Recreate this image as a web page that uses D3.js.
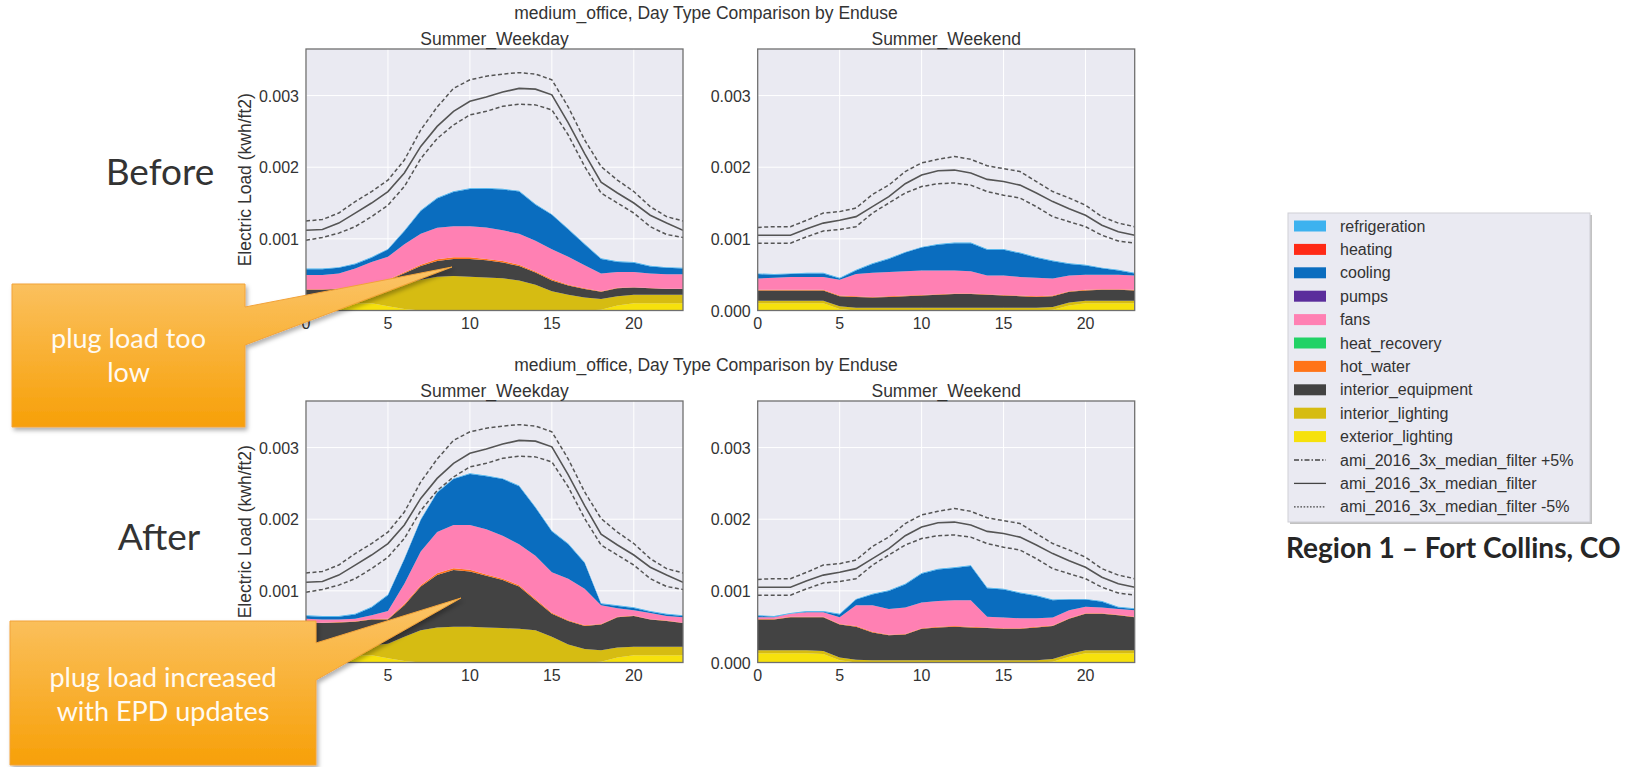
<!DOCTYPE html>
<html>
<head>
<meta charset="utf-8">
<script src="https://cdn.jsdelivr.net/npm/d3@7"></script>
<style>
  body { margin: 0; background: #fff; }
  svg { display: block; font-family: "Liberation Sans", Arial, sans-serif; }
</style>
</head>
<body>
<script>
// hourly values, all in 1e-3 kwh/ft2
var hours = [0,1,2,3,4,5,6,7,8,9,10,11,12,13,14,15,16,17,18,19,20,21,22,23];

var enduses = ["refrigeration","heating","cooling","pumps","fans","heat_recovery",
  "hot_water","interior_equipment","interior_lighting","exterior_lighting"];
var enduseColors = ["#3db2ef","#ff2a16","#0a6dbf","#5b2d9c","#ff80b3","#22d266",
  "#ff7418","#434343","#d6bc12","#f6e10c"];

var xTicks = [0,5,10,15,20];
var yTicks = [0,1,2,3];

// AMI measured profiles (same in before/after)
var wdMedian = [1.12,1.13,1.22,1.36,1.50,1.66,1.92,2.29,2.57,2.78,2.92,2.98,3.05,3.10,3.09,3.01,2.62,2.19,1.79,1.64,1.50,1.33,1.22,1.12];
var wdUpper  = [1.25,1.27,1.36,1.52,1.66,1.82,2.10,2.52,2.84,3.10,3.22,3.27,3.30,3.32,3.30,3.22,2.84,2.38,2.01,1.82,1.66,1.45,1.31,1.25];
var wdLower  = [0.98,1.02,1.08,1.17,1.31,1.47,1.73,2.12,2.40,2.59,2.73,2.78,2.85,2.88,2.87,2.80,2.45,2.01,1.64,1.50,1.36,1.17,1.06,1.02];
var weMedian = [1.05,1.05,1.05,1.14,1.22,1.26,1.31,1.45,1.59,1.77,1.89,1.95,1.96,1.92,1.83,1.80,1.75,1.64,1.52,1.42,1.33,1.19,1.10,1.05];
var weUpper  = [1.16,1.17,1.17,1.26,1.36,1.38,1.43,1.62,1.75,1.94,2.06,2.11,2.15,2.11,2.02,1.98,1.94,1.80,1.66,1.57,1.47,1.31,1.22,1.17];
var weLower  = [0.94,0.94,0.94,1.03,1.11,1.13,1.17,1.36,1.50,1.64,1.73,1.77,1.78,1.75,1.66,1.61,1.57,1.45,1.31,1.24,1.17,1.05,0.97,0.94];

var refrigeration = [0.01,0.01,0.01,0.01,0.01,0.01,0.01,0.01,0.01,0.01,0.01,0.01,0.01,0.01,0.01,0.01,0.01,0.01,0.01,0.01,0.01,0.01,0.01,0.01];
var noLoad = [0,0,0,0,0,0,0,0,0,0,0,0,0,0,0,0,0,0,0,0,0,0,0,0];

// before, weekday
var bwdExterior  = [0.10,0.10,0.10,0.10,0.10,0.06,0.02,0,0,0,0,0,0,0,0,0,0,0,0.01,0.07,0.10,0.10,0.10,0.10];
var bwdInterior  = [0.11,0.11,0.11,0.13,0.15,0.24,0.35,0.43,0.47,0.48,0.47,0.46,0.45,0.42,0.36,0.27,0.22,0.18,0.15,0.13,0.12,0.12,0.12,0.12];
var bwdEquipment = [0.08,0.08,0.09,0.09,0.11,0.12,0.15,0.19,0.22,0.24,0.25,0.24,0.22,0.20,0.17,0.15,0.13,0.12,0.10,0.11,0.10,0.09,0.08,0.08];
var bwdHotWater  = [0.005,0.005,0.005,0.005,0.008,0.01,0.015,0.02,0.025,0.025,0.025,0.02,0.02,0.02,0.015,0.015,0.01,0.01,0.008,0.008,0.006,0.005,0.005,0.005];
var bwdFans      = [0.20,0.20,0.21,0.26,0.31,0.32,0.39,0.43,0.44,0.43,0.43,0.44,0.43,0.43,0.43,0.42,0.39,0.32,0.25,0.22,0.21,0.20,0.20,0.20];
var bwdCooling   = [0.08,0.08,0.08,0.06,0.06,0.10,0.18,0.32,0.41,0.48,0.52,0.54,0.57,0.59,0.50,0.48,0.38,0.29,0.20,0.14,0.13,0.10,0.09,0.08];

// before, weekend
var bweExterior  = [0.10,0.10,0.10,0.10,0.10,0.02,0,0,0,0,0,0,0,0,0,0,0,0,0.01,0.07,0.10,0.10,0.10,0.10];
var bweInterior  = [0.035,0.035,0.035,0.035,0.035,0.04,0.04,0.04,0.04,0.04,0.04,0.04,0.04,0.04,0.04,0.04,0.04,0.04,0.04,0.04,0.035,0.035,0.035,0.035];
var bweEquipment = [0.145,0.145,0.145,0.145,0.145,0.14,0.15,0.14,0.15,0.16,0.17,0.18,0.19,0.19,0.18,0.17,0.16,0.15,0.15,0.15,0.145,0.155,0.155,0.145];
var bweHotWater  = [0.008,0.008,0.008,0.008,0.008,0.008,0.008,0.008,0.008,0.008,0.008,0.008,0.008,0.008,0.008,0.008,0.008,0.008,0.008,0.008,0.008,0.008,0.008,0.008];
var bweFans      = [0.16,0.17,0.18,0.18,0.18,0.22,0.31,0.34,0.34,0.34,0.34,0.33,0.32,0.31,0.26,0.27,0.26,0.26,0.24,0.22,0.21,0.20,0.20,0.20];
var bweCooling   = [0.06,0.04,0.04,0.05,0.05,0.02,0.05,0.12,0.18,0.26,0.32,0.36,0.38,0.39,0.36,0.36,0.33,0.28,0.24,0.16,0.13,0.09,0.06,0.03];

// after, weekday
var awdExterior  = [0.10,0.10,0.10,0.10,0.10,0.06,0.02,0,0,0,0,0,0,0,0,0,0,0,0.01,0.07,0.10,0.10,0.10,0.10];
var awdInterior  = [0.11,0.11,0.11,0.12,0.14,0.20,0.34,0.45,0.49,0.50,0.50,0.49,0.48,0.47,0.45,0.36,0.25,0.19,0.16,0.14,0.12,0.12,0.12,0.12];
var awdEquipment = [0.34,0.34,0.35,0.35,0.36,0.34,0.44,0.61,0.73,0.79,0.77,0.72,0.67,0.59,0.42,0.32,0.33,0.32,0.36,0.42,0.43,0.38,0.36,0.33];
var awdHotWater  = [0.005,0.005,0.005,0.005,0.008,0.01,0.015,0.02,0.025,0.025,0.025,0.02,0.02,0.02,0.015,0.015,0.01,0.01,0.008,0.008,0.006,0.005,0.005,0.005];
var awdFans      = [0.055,0.045,0.035,0.035,0.05,0.11,0.285,0.47,0.575,0.605,0.625,0.63,0.60,0.57,0.605,0.565,0.58,0.51,0.26,0.12,0.074,0.085,0.065,0.075];
var awdCooling   = [0.04,0.04,0.04,0.06,0.11,0.22,0.34,0.44,0.55,0.64,0.71,0.74,0.79,0.81,0.67,0.57,0.48,0.36,0.02,0.03,0.03,0.02,0.02,0.02];

// after, weekend
var aweExterior  = [0.13,0.13,0.13,0.13,0.12,0.03,0,0,0,0,0,0,0,0,0,0,0,0,0.01,0.08,0.13,0.13,0.13,0.13];
var aweInterior  = [0.04,0.04,0.04,0.04,0.04,0.04,0.04,0.03,0.03,0.03,0.03,0.03,0.03,0.03,0.03,0.03,0.03,0.03,0.04,0.04,0.04,0.04,0.04,0.04];
var aweEquipment = [0.43,0.43,0.46,0.46,0.47,0.46,0.46,0.39,0.35,0.36,0.44,0.46,0.47,0.46,0.45,0.44,0.44,0.46,0.46,0.49,0.51,0.51,0.49,0.46];
var aweHotWater  = [0.008,0.008,0.008,0.008,0.008,0.008,0.008,0.008,0.008,0.008,0.008,0.008,0.008,0.008,0.008,0.008,0.008,0.008,0.008,0.008,0.008,0.008,0.008,0.008];
var aweFans      = [0.022,0.022,0.042,0.062,0.062,0.092,0.29,0.37,0.36,0.37,0.36,0.36,0.36,0.37,0.15,0.15,0.14,0.12,0.11,0.11,0.09,0.08,0.08,0.09];
var aweCooling   = [0.02,0.01,0,0.01,0.01,0.04,0.08,0.15,0.25,0.32,0.40,0.44,0.45,0.48,0.40,0.39,0.35,0.31,0.24,0.15,0.10,0.08,0.02,0.02];

var width = 1632, height = 767;
var UNIT = 1e-3;

var svg = d3.select("body").append("svg")
  .attr("width", width)
  .attr("height", height);

var defs = svg.append("defs");
var grad = defs.append("linearGradient").attr("id", "callout")
  .attr("x1", 0).attr("y1", 0).attr("x2", 0).attr("y2", 1);
grad.append("stop").attr("offset", "0%").attr("stop-color", "#fbc468");
grad.append("stop").attr("offset", "100%").attr("stop-color", "#f7a008");
var shadow = defs.append("filter").attr("id", "shadow")
  .attr("x", "-10%").attr("y", "-10%").attr("width", "130%").attr("height", "130%");
shadow.append("feDropShadow").attr("dx", 2).attr("dy", 3).attr("stdDeviation", 2)
  .attr("flood-color", "#000").attr("flood-opacity", 0.3);

// stack order, bottom to top (legend order reversed)
var stackKeys = enduses.slice().reverse();
var colorOf = d3.scaleOrdinal().domain(enduses).range(enduseColors);

function makeTable(s) {
  var src = {
    refrigeration: refrigeration, heating: noLoad, cooling: s.cooling, pumps: noLoad,
    fans: s.fans, heat_recovery: noLoad, hot_water: s.hotWater,
    interior_equipment: s.equipment, interior_lighting: s.interior, exterior_lighting: s.exterior
  };
  return hours.map(function(h, i) {
    var row = { hour: h };
    stackKeys.forEach(function(k) { row[k] = src[k][i] * UNIT; });
    return row;
  });
}

var panels = [
  { left: 306, top: 49, title: "Summer_Weekday", ylabel: true,
    s: { exterior: bwdExterior, interior: bwdInterior, equipment: bwdEquipment, hotWater: bwdHotWater, fans: bwdFans, cooling: bwdCooling },
    med: wdMedian, up: wdUpper, lo: wdLower },
  { left: 757.7, top: 49, title: "Summer_Weekend", ylabel: false,
    s: { exterior: bweExterior, interior: bweInterior, equipment: bweEquipment, hotWater: bweHotWater, fans: bweFans, cooling: bweCooling },
    med: weMedian, up: weUpper, lo: weLower },
  { left: 306, top: 401, title: "Summer_Weekday", ylabel: true,
    s: { exterior: awdExterior, interior: awdInterior, equipment: awdEquipment, hotWater: awdHotWater, fans: awdFans, cooling: awdCooling },
    med: wdMedian, up: wdUpper, lo: wdLower },
  { left: 757.7, top: 401, title: "Summer_Weekend", ylabel: false,
    s: { exterior: aweExterior, interior: aweInterior, equipment: aweEquipment, hotWater: aweHotWater, fans: aweFans, cooling: aweCooling },
    med: weMedian, up: weUpper, lo: weLower }
];

var pw = 377, ph = 261.5;
var fmt = d3.format(".3f");

panels.forEach(function(p, pi) {
  var x = d3.scaleLinear().domain([0, 23]).range([p.left, p.left + pw]);
  var y = d3.scaleLinear().domain([0, 0.00365]).range([p.top + ph, p.top]);
  var g = svg.append("g");

  g.append("clipPath").attr("id", "clip" + pi)
    .append("rect").attr("x", p.left).attr("y", p.top).attr("width", pw).attr("height", ph);

  g.append("rect")
    .attr("x", p.left).attr("y", p.top).attr("width", pw).attr("height", ph)
    .attr("fill", "#eaeaf2");

  // grid
  g.selectAll(".vg").data(xTicks).enter().append("line")
    .attr("x1", function(d) { return x(d); }).attr("x2", function(d) { return x(d); })
    .attr("y1", p.top).attr("y2", p.top + ph)
    .attr("stroke", "#fff").attr("stroke-width", 1);
  g.selectAll(".hg").data(yTicks).enter().append("line")
    .attr("x1", p.left).attr("x2", p.left + pw)
    .attr("y1", function(d) { return y(d * UNIT); }).attr("y2", function(d) { return y(d * UNIT); })
    .attr("stroke", "#fff").attr("stroke-width", 1);

  var layers = d3.stack().keys(stackKeys)(makeTable(p.s));
  var area = d3.area()
    .x(function(d) { return x(d.data.hour); })
    .y0(function(d) { return y(d[0]); })
    .y1(function(d) { return y(d[1]); });

  var plot = g.append("g").attr("clip-path", "url(#clip" + pi + ")");
  plot.selectAll(".layer").data(layers).enter().append("path")
    .attr("d", area)
    .attr("fill", function(d) { return colorOf(d.key); });

  var line = d3.line()
    .x(function(d, i) { return x(hours[i]); })
    .y(function(d) { return y(d * UNIT); });
  plot.append("path").attr("d", line(p.up)).attr("fill", "none")
    .attr("stroke", "#555").attr("stroke-width", 1.5).attr("stroke-dasharray", "4,2.5");
  plot.append("path").attr("d", line(p.med)).attr("fill", "none")
    .attr("stroke", "#555").attr("stroke-width", 1.6);
  plot.append("path").attr("d", line(p.lo)).attr("fill", "none")
    .attr("stroke", "#555").attr("stroke-width", 1.5).attr("stroke-dasharray", "4,2.5");

  g.append("rect")
    .attr("x", p.left).attr("y", p.top).attr("width", pw).attr("height", ph)
    .attr("fill", "none").attr("stroke", "#6f6f6f").attr("stroke-width", 1.3);

  // tick labels
  g.selectAll(".xt").data(xTicks).enter().append("text")
    .attr("x", function(d) { return x(d); })
    .attr("y", p.top + ph + 18)
    .attr("text-anchor", "middle")
    .attr("font-size", 16).attr("fill", "#333")
    .text(function(d) { return d; });
  g.selectAll(".yt").data(yTicks).enter().append("text")
    .attr("x", p.left - 7)
    .attr("y", function(d) { return y(d * UNIT) + 6; })
    .attr("text-anchor", "end")
    .attr("font-size", 16).attr("fill", "#333")
    .text(function(d) { return fmt(d * UNIT); });

  g.append("text")
    .attr("x", p.left + pw / 2).attr("y", p.top - 4)
    .attr("text-anchor", "middle")
    .attr("font-size", 17.5).attr("fill", "#333")
    .text(p.title);

  if (p.ylabel) {
    g.append("text")
      .attr("transform", "translate(" + (p.left - 55) + "," + (p.top + ph / 2) + ") rotate(-90)")
      .attr("text-anchor", "middle")
      .attr("font-size", 17.5).attr("fill", "#333")
      .text("Electric Load (kwh/ft2)");
  }
});

// figure titles
[19, 371].forEach(function(ty) {
  svg.append("text")
    .attr("x", 706).attr("y", ty)
    .attr("text-anchor", "middle")
    .attr("font-size", 17.5).attr("fill", "#333")
    .text("medium_office, Day Type Comparison by Enduse");
});

// legend
var lg = svg.append("g");
lg.append("rect").attr("x", 1290).attr("y", 215).attr("width", 302).attr("height", 309)
  .attr("fill", "#9a9a9a").attr("opacity", 0.6);
lg.append("rect").attr("x", 1288).attr("y", 213).attr("width", 302).attr("height", 309)
  .attr("fill", "#eaeaf2").attr("stroke", "#cfcfd6").attr("stroke-width", 1);

var legendRows = enduses.map(function(k) { return { label: k, kind: "swatch" }; })
  .concat([
    { label: "ami_2016_3x_median_filter +5%", kind: "dashdot" },
    { label: "ami_2016_3x_median_filter", kind: "solid" },
    { label: "ami_2016_3x_median_filter -5%", kind: "dotted" }
  ]);

legendRows.forEach(function(r, i) {
  var cy = 226 + i * 23.4;
  if (r.kind === "swatch") {
    lg.append("rect").attr("x", 1294).attr("y", cy - 5.5).attr("width", 32).attr("height", 11)
      .attr("fill", colorOf(r.label));
  } else {
    var ln = lg.append("line").attr("x1", 1294).attr("x2", 1326).attr("y1", cy).attr("y2", cy)
      .attr("stroke", "#444").attr("stroke-width", 1.3);
    if (r.kind === "dashdot") ln.attr("stroke-dasharray", "5,2,1.5,2");
    if (r.kind === "dotted") ln.attr("stroke-dasharray", "1.6,1.6");
  }
  lg.append("text").attr("x", 1340).attr("y", cy + 5.5)
    .attr("font-size", 16).attr("fill", "#333")
    .text(r.label);
});

svg.append("text")
  .attr("x", 1286).attr("y", 558)
  .attr("font-family", "Lato, 'Open Sans', sans-serif")
  .attr("font-weight", 700).attr("font-size", 28).attr("fill", "#262626")
  .text("Region 1 \u2013 Fort Collins, CO");

// Before / After
svg.append("text").attr("x", 160).attr("y", 185).attr("text-anchor", "middle")
  .attr("font-family", "Lato, sans-serif").attr("font-size", 37).attr("fill", "#333")
  .text("Before");
svg.append("text").attr("x", 159).attr("y", 550).attr("text-anchor", "middle")
  .attr("font-family", "Lato, sans-serif").attr("font-size", 37).attr("fill", "#333")
  .text("After");

// callouts
var callouts = [
  { path: "M12,284H245V307L452,267L245,345V427H12Z", cx: 128.5, lines: ["plug load too", "low"], y0: 348 },
  { path: "M10,621H316V643L461,598L316,680V765H10Z", cx: 163, lines: ["plug load increased", "with EPD updates"], y0: 687 }
];
callouts.forEach(function(c) {
  svg.append("path").attr("d", c.path)
    .attr("fill", "url(#callout)").attr("stroke", "#f2a33a").attr("stroke-width", 1)
    .attr("filter", "url(#shadow)");
  c.lines.forEach(function(t, i) {
    svg.append("text").attr("x", c.cx).attr("y", c.y0 + i * 34)
      .attr("text-anchor", "middle")
      .attr("font-family", "Lato, sans-serif").attr("font-size", 27).attr("fill", "#fffaf2")
      .text(t);
  });
});
</script>
</body>
</html>
